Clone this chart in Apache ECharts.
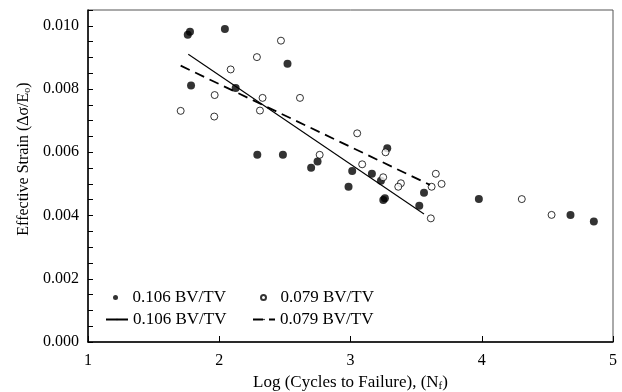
<!DOCTYPE html>
<html>
<head>
<meta charset="utf-8">
<script src="https://cdn.jsdelivr.net/npm/echarts@6/dist/echarts.min.js"></script>
<style>html,body{margin:0;padding:0;background:#fff}#c{width:622px;height:392px}</style>
</head>
<body>
<div id="c"></div>
<script>
const dense106 = [
  [1.760,0.00972],[1.777,0.00981],[2.043,0.00990],[2.520,0.00880],[1.785,0.00811],
  [2.125,0.00803],[2.290,0.00592],[2.485,0.00592],[2.749,0.00571],[2.700,0.00551],
  [3.013,0.00541],[2.985,0.00491],[3.163,0.00532],[3.232,0.00510],[3.250,0.00449],
  [3.262,0.00455],[3.280,0.00613],[3.524,0.00431],[3.560,0.00472],[3.978,0.00452],
  [4.676,0.00402],[4.854,0.00381]
];
const open079 = [
  [2.470,0.00953],[2.287,0.00901],[2.087,0.00862],[1.965,0.00781],[1.706,0.00731],
  [1.962,0.00713],[2.330,0.00772],[2.310,0.00732],[2.615,0.00772],[2.765,0.00592],
  [3.051,0.00660],[3.089,0.00562],[3.267,0.00600],[3.249,0.00521],[3.384,0.00502],
  [3.364,0.00491],[3.650,0.00532],[3.694,0.00500],[3.618,0.00491],[3.612,0.00391],
  [4.305,0.00452],[4.532,0.00402]
];
const fit106 = [[1.764,0.00910],[3.560,0.00405]];
const fit079 = [[1.706,0.00874],[3.605,0.00497]];
const yTickLabels = ['0.000','0.002','0.004','0.006','0.008','0.010'];
const xTickLabels = ['1','2','3','4','5'];

const FONT = 'Liberation Serif';
const chart = echarts.init(document.getElementById('c'), null, {renderer:'canvas'});
function leg(name, left, top, w, h){
  return {
    data:[name], left:left, top:top, itemWidth:w, itemHeight:h, selectedMode:false,
    padding:0, formatter: n => n.trim(),
    textStyle:{fontFamily:FONT, fontSize:17, color:'#000'}
  };
}
chart.setOption({
  animation:false,
  backgroundColor:'#fff',
  grid:{left:88, right:9, top:10, bottom:50, containLabel:false, outerBoundsMode:'none',
        show:true, borderColor:'#555', borderWidth:1},
  legend:[
    leg('0.106 BV/TV', 113, 289, 24, 5),
    leg('0.079 BV/TV', 260, 289, 24, 5),
    leg('0.106 BV/TV ', 105, 311, 22, 2),
    leg('0.079 BV/TV ', 252, 311, 22, 2)
  ],
  xAxis:{
    type:'value', min:1, max:5, interval:1,
    name:'{a|Log (Cycles to Failure), (N}{s|f}{a|)}',
    nameLocation:'middle', nameGap:31,
    nameTextStyle:{rich:{a:{fontFamily:FONT,fontSize:17,color:'#000'},s:{fontFamily:FONT,fontSize:11,color:'#000',verticalAlign:'bottom',padding:[8,0,0,0]}}},
    axisLine:{lineStyle:{color:'#000',width:1.5}},
    axisTick:{inside:true,length:6,lineStyle:{color:'#000'}},
    axisLabel:{fontFamily:FONT,fontSize:16,color:'#000',margin:11,
      formatter:v=>{const s=String(Math.round(v));return xTickLabels.includes(s)?s:'';}},
    splitLine:{show:false}
  },
  yAxis:{
    type:'value', min:0, max:0.0105, interval:0.0005,
    name:'{a|Effective Strain (Δσ/E}{s|o}{a|)}',
    nameLocation:'middle', nameGap:51, nameRotate:90,
    nameTextStyle:{padding:[0,0,0,34],rich:{a:{fontFamily:FONT,fontSize:16,color:'#000'},s:{fontFamily:FONT,fontSize:10,color:'#000',verticalAlign:'bottom',padding:[7,0,0,0]}}},
    axisLine:{lineStyle:{color:'#000',width:1.5}},
    axisTick:{inside:true,length:5,interval:0,lineStyle:{color:'#000'}},
    axisLabel:{fontFamily:FONT,fontSize:16,color:'#000',margin:9,interval:0,
      formatter:v=>{const s=v.toFixed(3);return (Math.round(v/0.0005)%4===0 && yTickLabels.includes(s))?s:'';}},
    splitLine:{show:false}
  },
  series:[
    {name:'0.106 BV/TV', type:'scatter', data:dense106, symbol:'circle', symbolSize:8,
     itemStyle:{color:'#000'}, z:2},
    {name:'0.079 BV/TV', type:'scatter', data:open079, symbol:'circle', symbolSize:7,
     itemStyle:{color:'#fff', borderColor:'#000', borderWidth:1}, z:3},
    {name:'0.106 BV/TV ', type:'line', data:fit106, symbol:'none', showSymbol:false,
     lineStyle:{color:'#000', width:1.1}, itemStyle:{color:'#000'}, z:4},
    {name:'0.079 BV/TV ', type:'line', data:fit079, symbol:'none', showSymbol:false,
     lineStyle:{color:'#000', width:1.8, type:[10,6]}, itemStyle:{color:'#000'}, z:4}
  ]
});
</script>
</body>
</html>
